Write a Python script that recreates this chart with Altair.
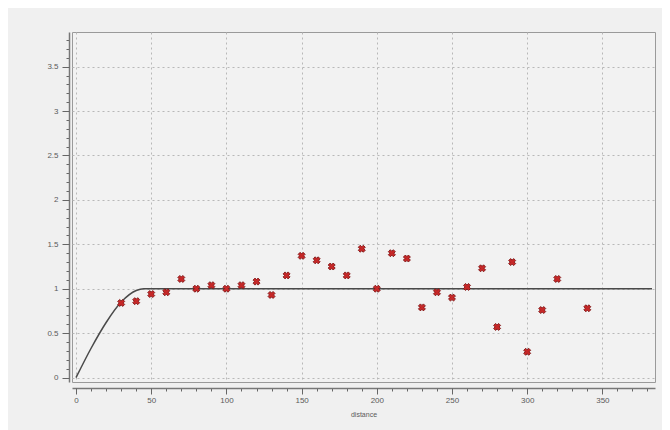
import altair as alt
import pandas as pd

# observed semivariance points
dist = [30, 40, 50, 60, 70, 80, 90, 100, 110, 120, 130, 140, 150, 160, 170, 180,
        190, 200, 210, 220, 230, 240, 250, 260, 270, 280, 290, 300, 310, 320, 340]
gamma = [0.84, 0.86, 0.94, 0.96, 1.11, 1.00, 1.04, 1.00, 1.04, 1.08, 0.93, 1.15, 1.37, 1.32, 1.25, 1.15,
         1.45, 1.00, 1.40, 1.34, 0.79, 0.96, 0.90, 1.02, 1.23, 0.57, 1.30, 0.29, 0.76, 1.11, 0.78]

# fitted model curve
model_x = [0, 10, 20, 30, 40, 45, 383]
model_y = [0, 0.33, 0.62, 0.85, 0.98, 1.0, 1.0]

x_major = [0, 50, 100, 150, 200, 250, 300, 350]
x_minor = list(range(0, 390, 10))
y_major = [0, 0.5, 1, 1.5, 2, 2.5, 3, 3.5]
y_minor = [round(i * 0.1, 1) for i in range(0, 39)]

pts = pd.DataFrame({"distance": dist, "gamma": gamma})
mdl = pd.DataFrame({"distance": model_x, "gamma": model_y})

xs = alt.Scale(domain=[-2.7, 385], nice=False, zero=False)
ys = alt.Scale(domain=[-0.05, 3.89], nice=False, zero=False)

font = "Liberation Sans"
lab = "#5a5a5a"

line = alt.Chart(mdl).mark_line(color="#4a4a4a", strokeWidth=1.5, interpolate="monotone").encode(
    x=alt.X("distance:Q", scale=xs,
            axis=alt.Axis(orient="bottom", values=x_minor, labels=False, title=None, grid=False,
                          tickSize=3, tickColor="#666", domainColor="#777", domainWidth=1.5, offset=6)),
    y=alt.Y("gamma:Q", scale=ys,
            axis=alt.Axis(orient="left", values=y_minor, labels=False, title=None, grid=False,
                          tickSize=3, tickColor="#666", domainColor="#777", domainWidth=1.5, offset=3)),
)

points = alt.Chart(pts).mark_point(shape="cross", angle=45, filled=True, color="#c62828",
                                   stroke="#7a1010", strokeWidth=0.8, size=50, opacity=1).encode(
    x=alt.X("distance:Q", scale=xs,
            axis=alt.Axis(orient="bottom", values=x_major, title="distance", grid=True,
                          gridDash=[2, 3], gridColor="#b8b8b8", domain=False,
                          tickSize=6, tickColor="#666", offset=6, labelFont=font, labelFontSize=8,
                          labelColor=lab, titleFont=font, titleFontSize=7, titleFontWeight="normal",
                          titleColor=lab, titlePadding=6, format="d")),
    y=alt.Y("gamma:Q", scale=ys,
            axis=alt.Axis(orient="left", values=y_major, title=None, grid=True,
                          gridDash=[2, 3], gridColor="#b8b8b8", domain=False,
                          tickSize=7, tickColor="#666", offset=3, labelFont=font, labelFontSize=8,
                          labelColor=lab, labelPadding=4, format="~g")),
)

chart = alt.layer(line, points).resolve_axis(x="independent", y="independent").properties(
    width=583, height=350, background="#f0f0f0",
    autosize=alt.AutoSizeParams(type="none"),
    padding={"left": 64, "top": 24, "right": 7, "bottom": 48},
).configure_view(stroke="#9a9a9a", strokeWidth=1, fill="#f2f2f2")

chart.save("out.html", embed_options={"renderer": "svg", "actions": False})
